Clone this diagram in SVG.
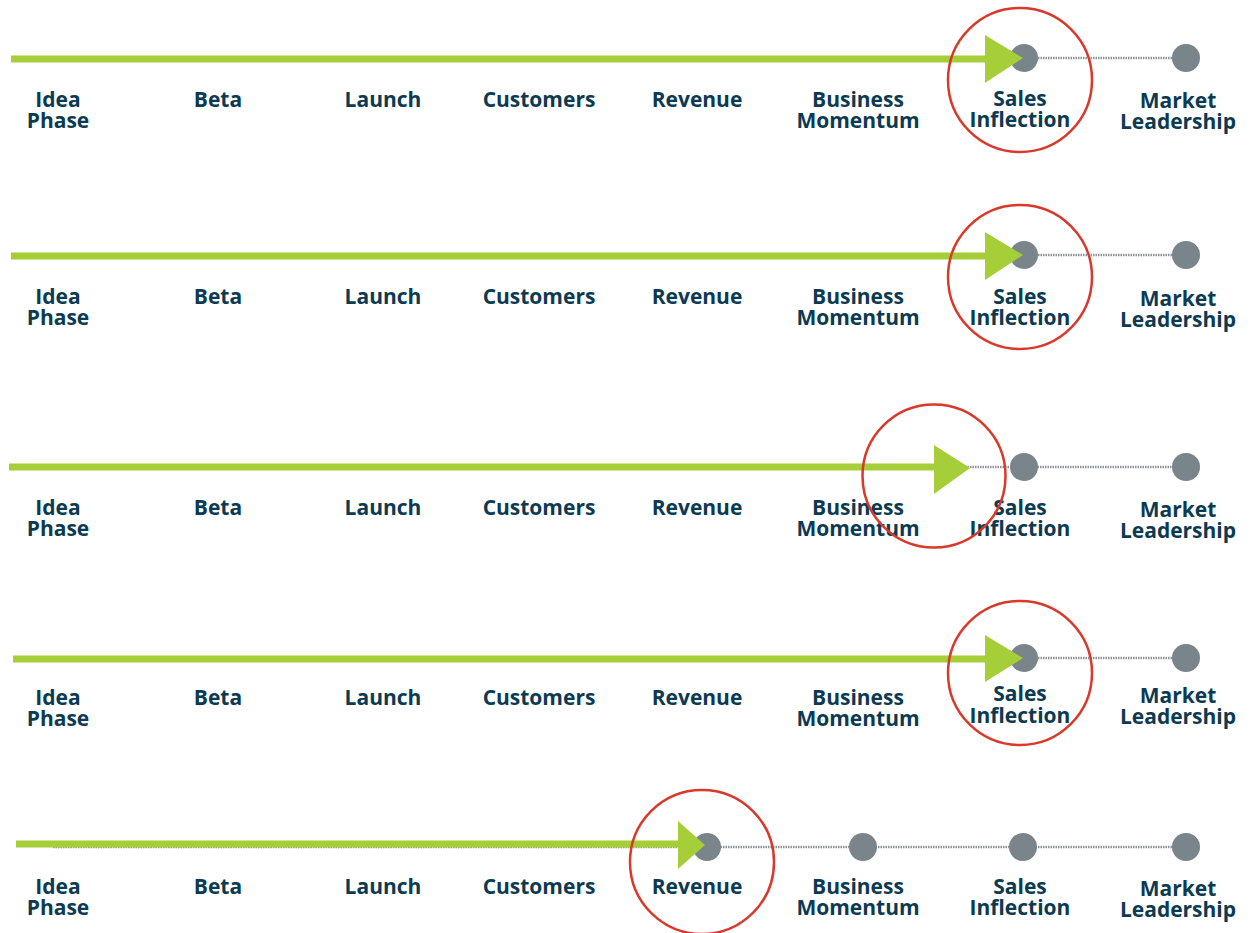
<svg xmlns="http://www.w3.org/2000/svg" width="1258" height="933" viewBox="0 0 1258 933">
<style>
.lbl{font-family:"Open Sans","Liberation Sans",sans-serif;font-weight:700;font-size:21px;fill:#0c3a52;text-anchor:middle}
.green{stroke:#a6ce39;stroke-width:7;fill:none}
.tri{fill:#a6ce39}
.dash{stroke:#8c9297;stroke-width:2.5;stroke-dasharray:1.5 1;fill:none}
.dot{fill:#7a848b}
.ring{fill:none;stroke:#d8392b;stroke-width:2.5}
</style>
<rect width="1258" height="933" fill="#fff"/>
<g id="connectors">
<line class="dash" x1="1023" y1="58" x2="1186" y2="58"/>
<line class="green" x1="11" y1="59" x2="990" y2="59"/>
<line class="dash" x1="1023" y1="255" x2="1186" y2="255"/>
<line class="green" x1="11" y1="256" x2="990" y2="256"/>
<line class="dash" x1="960" y1="467" x2="1186" y2="467"/>
<line class="green" x1="9" y1="467" x2="940" y2="467"/>
<line class="dash" x1="1023" y1="658" x2="1186" y2="658"/>
<line class="green" x1="13" y1="659" x2="990" y2="659"/>
<line class="dash" x1="53" y1="847" x2="1186" y2="847"/>
<line class="green" x1="16" y1="844" x2="684" y2="844"/>
</g>
<g id="row1">
<circle class="dot" cx="1024" cy="58" r="14"/><circle class="dot" cx="1186" cy="58" r="14"/>
<polygon class="tri" points="985,35 1023,58 985,83"/>
<text class="lbl" x="58" y="107">Idea<tspan x="58" dy="21">Phase</tspan></text>
<text class="lbl" x="218" y="107">Beta</text>
<text class="lbl" x="383" y="107">Launch</text>
<text class="lbl" x="539" y="107">Customers</text>
<text class="lbl" x="697" y="107">Revenue</text>
<text class="lbl" x="858" y="107">Business<tspan x="858" dy="21">Momentum</tspan></text>
<text class="lbl" x="1020" y="106">Sales<tspan x="1020" dy="21">Inflection</tspan></text>
<text class="lbl" x="1178" y="108">Market<tspan x="1178" dy="21">Leadership</tspan></text>
<circle class="ring" cx="1020" cy="80" r="72"/>
</g>
<g id="row2">
<circle class="dot" cx="1024" cy="255" r="14"/><circle class="dot" cx="1186" cy="255" r="14"/>
<polygon class="tri" points="985,232 1023,255 985,280"/>
<text class="lbl" x="58" y="304">Idea<tspan x="58" dy="21">Phase</tspan></text>
<text class="lbl" x="218" y="304">Beta</text>
<text class="lbl" x="383" y="304">Launch</text>
<text class="lbl" x="539" y="304">Customers</text>
<text class="lbl" x="697" y="304">Revenue</text>
<text class="lbl" x="858" y="304">Business<tspan x="858" dy="21">Momentum</tspan></text>
<text class="lbl" x="1020" y="304">Sales<tspan x="1020" dy="21">Inflection</tspan></text>
<text class="lbl" x="1178" y="306">Market<tspan x="1178" dy="21">Leadership</tspan></text>
<circle class="ring" cx="1020" cy="277" r="72"/>
</g>
<g id="row3">
<circle class="dot" cx="1024" cy="467" r="14"/><circle class="dot" cx="1186" cy="467" r="14"/>
<polygon class="tri" points="934,445 970,468 934,494"/>
<text class="lbl" x="58" y="515">Idea<tspan x="58" dy="21">Phase</tspan></text>
<text class="lbl" x="218" y="515">Beta</text>
<text class="lbl" x="383" y="515">Launch</text>
<text class="lbl" x="539" y="515">Customers</text>
<text class="lbl" x="697" y="515">Revenue</text>
<text class="lbl" x="858" y="515">Business<tspan x="858" dy="21">Momentum</tspan></text>
<text class="lbl" x="1020" y="515">Sales<tspan x="1020" dy="21">Inflection</tspan></text>
<text class="lbl" x="1178" y="517">Market<tspan x="1178" dy="21">Leadership</tspan></text>
<circle class="ring" cx="934" cy="476" r="71.5"/>
</g>
<g id="row4">
<circle class="dot" cx="1024" cy="658" r="14"/><circle class="dot" cx="1186" cy="658" r="14"/>
<polygon class="tri" points="985,635 1023,658 985,682"/>
<text class="lbl" x="58" y="705">Idea<tspan x="58" dy="21">Phase</tspan></text>
<text class="lbl" x="218" y="705">Beta</text>
<text class="lbl" x="383" y="705">Launch</text>
<text class="lbl" x="539" y="705">Customers</text>
<text class="lbl" x="697" y="705">Revenue</text>
<text class="lbl" x="858" y="705">Business<tspan x="858" dy="21">Momentum</tspan></text>
<text class="lbl" x="1020" y="701">Sales<tspan x="1020" dy="22">Inflection</tspan></text>
<text class="lbl" x="1178" y="703">Market<tspan x="1178" dy="21">Leadership</tspan></text>
<circle class="ring" cx="1020" cy="673" r="72"/>
</g>
<g id="row5">
<circle class="dot" cx="707" cy="847" r="14"/><circle class="dot" cx="863" cy="847" r="14"/>
<circle class="dot" cx="1023" cy="847" r="14"/><circle class="dot" cx="1186" cy="847" r="14"/>
<polygon class="tri" points="678,821 705,845 678,869"/>
<text class="lbl" x="58" y="894">Idea<tspan x="58" dy="21">Phase</tspan></text>
<text class="lbl" x="218" y="894">Beta</text>
<text class="lbl" x="383" y="894">Launch</text>
<text class="lbl" x="539" y="894">Customers</text>
<text class="lbl" x="697" y="894">Revenue</text>
<text class="lbl" x="858" y="894">Business<tspan x="858" dy="21">Momentum</tspan></text>
<text class="lbl" x="1020" y="894">Sales<tspan x="1020" dy="21">Inflection</tspan></text>
<text class="lbl" x="1178" y="896">Market<tspan x="1178" dy="21">Leadership</tspan></text>
<circle class="ring" cx="702" cy="862" r="72"/>
</g>
</svg>
